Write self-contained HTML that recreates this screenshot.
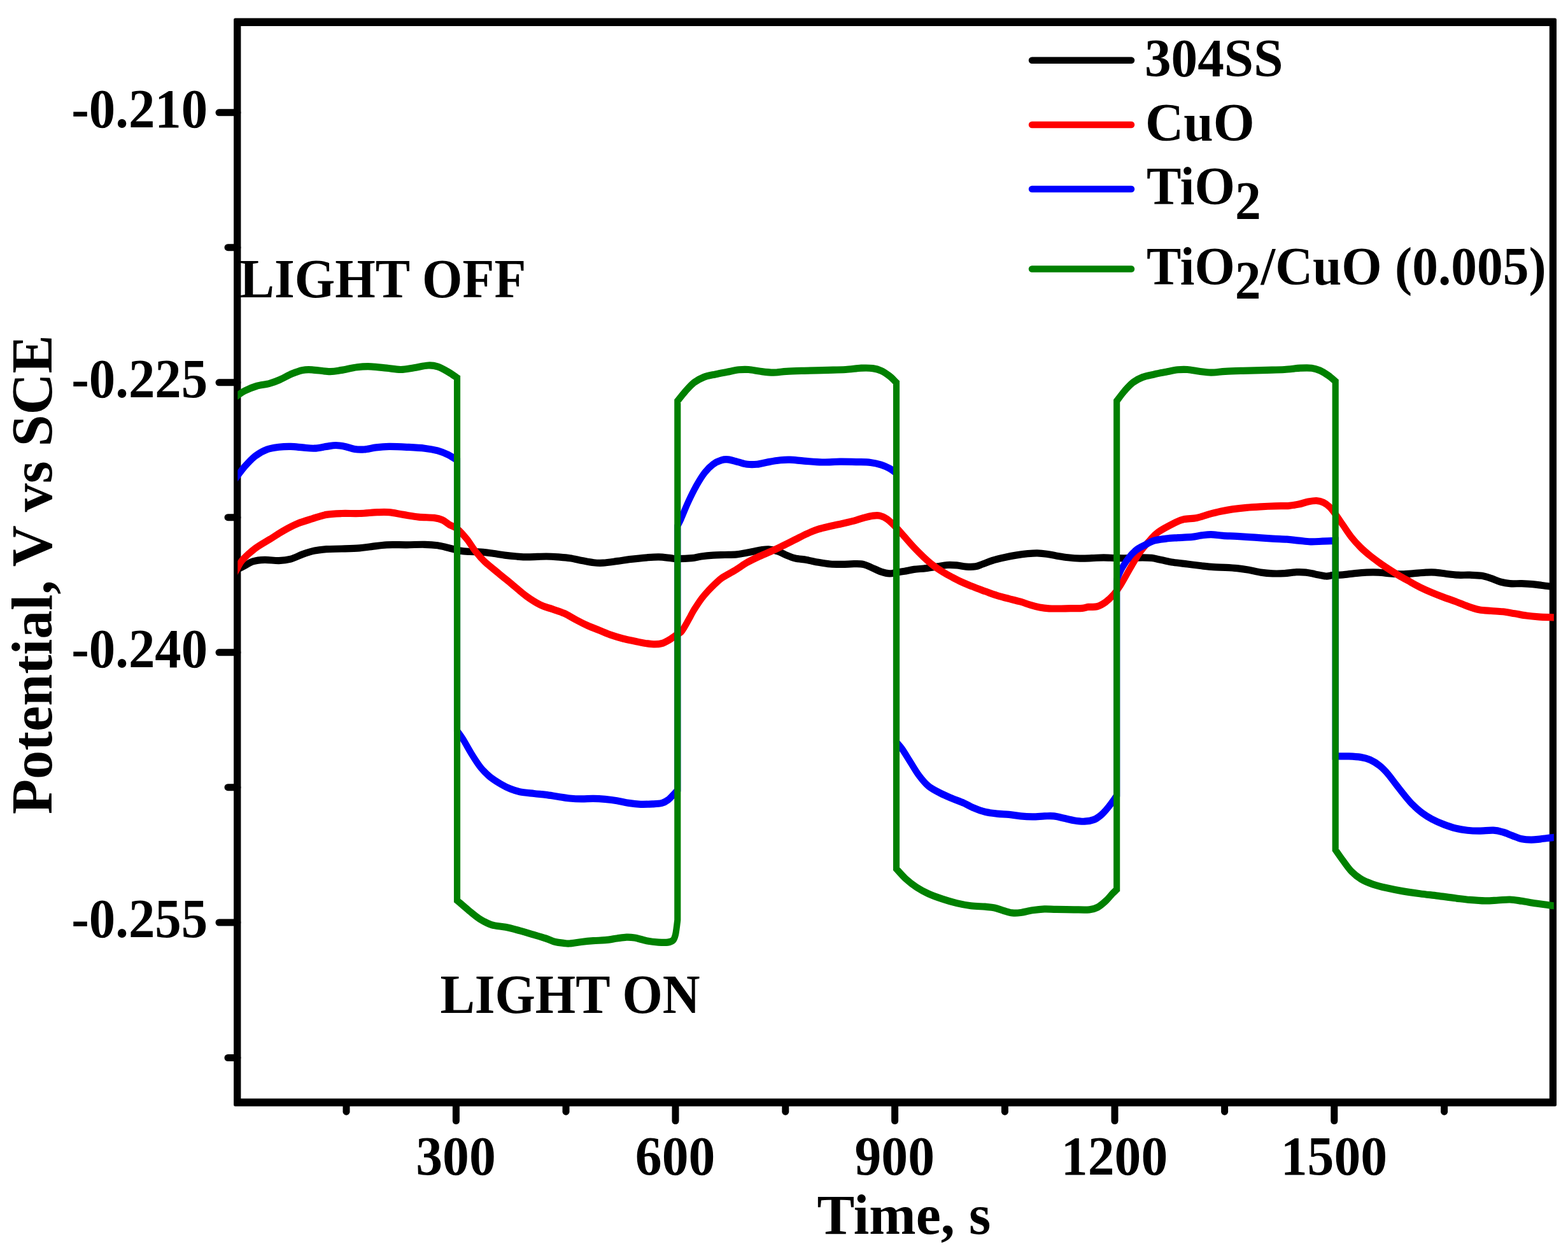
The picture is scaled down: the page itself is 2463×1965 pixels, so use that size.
<!DOCTYPE html>
<html lang="en"><head><meta charset="utf-8"><title>Potential vs Time</title>
<style>html,body{margin:0;padding:0;background:#fff;}body{width:2463px;height:1965px;overflow:hidden;}svg{display:block;}text{font-family:"Liberation Serif",serif;font-weight:bold;fill:#000;}</style>
</head><body>
<svg width="2463" height="1965" viewBox="0 0 2463 1965" role="img" aria-label="Potential versus time under chopped light">
<rect width="2463" height="1965" fill="#fff"/>
<path fill="#000" fill-rule="evenodd" d="M369.6 28.6H2442.5Q2445.0 28.6 2445.0 31.1V1735.2Q2445.0 1737.7 2442.5 1737.7H369.6Q367.1 1737.7 367.1 1735.2V31.1Q367.1 28.6 369.6 28.6Z M378.4 41.0H2433.8V1725.5H378.4Z"/>
<g stroke="#000" stroke-width="11" stroke-linecap="round">
<line x1="344.0" y1="176.8" x2="372.9" y2="176.8"/>
<line x1="344.0" y1="600.8" x2="372.9" y2="600.8"/>
<line x1="344.0" y1="1024.8" x2="372.9" y2="1024.8"/>
<line x1="344.0" y1="1449.0" x2="372.9" y2="1449.0"/>
<line x1="358.0" y1="388.7" x2="372.9" y2="388.7"/>
<line x1="358.0" y1="812.7" x2="372.9" y2="812.7"/>
<line x1="358.0" y1="1236.7" x2="372.9" y2="1236.7"/>
<line x1="358.0" y1="1661.5" x2="372.9" y2="1661.5"/>
<line x1="716.4" y1="1731.5" x2="716.4" y2="1760.5"/>
<line x1="1061.0" y1="1731.5" x2="1061.0" y2="1760.5"/>
<line x1="1405.6" y1="1731.5" x2="1405.6" y2="1760.5"/>
<line x1="1751.0" y1="1731.5" x2="1751.0" y2="1760.5"/>
<line x1="2095.8" y1="1731.5" x2="2095.8" y2="1760.5"/>
<line x1="544.0" y1="1731.5" x2="544.0" y2="1746.2"/>
<line x1="889.0" y1="1731.5" x2="889.0" y2="1746.2"/>
<line x1="1233.8" y1="1731.5" x2="1233.8" y2="1746.2"/>
<line x1="1578.4" y1="1731.5" x2="1578.4" y2="1746.2"/>
<line x1="1923.6" y1="1731.5" x2="1923.6" y2="1746.2"/>
<line x1="2268.6" y1="1731.5" x2="2268.6" y2="1746.2"/>
</g>
<clipPath id="pc"><rect x="373.3" y="0" width="2067.5" height="1965"/></clipPath>
<g clip-path="url(#pc)">
<g transform="scale(0.905 1)" fill="none" stroke-width="11.2" stroke-linejoin="miter" stroke-miterlimit="4" stroke-linecap="butt">
<path d="M405.4 897.3C406.5 896.8 408.9 895.7 412.0 894.3C415.2 892.9 420.1 890.8 424.5 888.7C429.0 886.6 433.1 883.5 438.9 881.9C444.7 880.3 451.9 879.6 459.4 879.4C467.0 879.2 476.6 880.8 484.1 880.6C491.6 880.4 497.8 879.8 504.6 878.1C511.5 876.5 518.3 872.9 525.2 870.7C532.1 868.5 539.0 866.4 545.9 865.1C552.7 863.8 558.5 863.2 566.4 862.7C574.3 862.2 583.4 862.3 593.0 862.0C602.6 861.7 615.4 861.4 624.0 860.8C632.6 860.2 636.7 859.4 644.5 858.6C652.4 857.8 660.9 856.3 671.2 855.8C681.4 855.3 695.2 855.9 706.2 855.8C717.2 855.7 728.1 855.1 737.0 855.3C745.9 855.4 752.7 855.8 759.6 856.7C766.4 857.6 771.6 859.1 778.1 860.5C784.6 861.9 792.6 864.1 798.7 865.1C804.8 866.1 808.5 866.2 814.6 866.5C820.7 866.8 828.3 866.6 835.1 867.1C842.0 867.6 848.8 868.5 855.7 869.3C862.5 870.1 869.4 871.3 876.2 872.1C883.1 872.9 889.9 873.5 896.8 874.0C903.6 874.5 908.8 874.9 917.3 874.9C925.9 874.9 939.6 874.0 948.2 874.0C956.7 874.0 961.9 874.4 968.7 874.9C975.6 875.4 982.4 875.8 989.3 876.7C996.2 877.6 1003.1 879.3 1009.9 880.5C1016.8 881.7 1024.3 883.2 1030.5 883.8C1036.6 884.4 1040.0 884.6 1046.9 884.2C1053.7 883.8 1064.1 882.3 1071.6 881.4C1079.2 880.5 1083.6 879.5 1092.2 878.6C1100.7 877.7 1114.4 876.4 1123.0 875.8C1131.5 875.2 1136.7 874.8 1143.5 874.9C1150.4 875.0 1158.7 876.2 1164.1 876.7C1169.5 877.2 1169.8 877.7 1175.9 877.7C1182.0 877.7 1193.7 877.3 1200.6 876.7C1207.4 876.1 1210.8 874.8 1217.0 874.0C1223.2 873.2 1230.7 872.5 1237.6 872.1C1244.4 871.7 1251.3 871.7 1258.1 871.5C1265.0 871.3 1271.8 871.4 1278.7 870.8C1285.5 870.2 1292.4 868.9 1299.2 867.8C1306.1 866.7 1314.0 864.9 1319.8 864.1C1325.6 863.3 1329.0 862.5 1334.1 862.8C1339.3 863.1 1345.8 864.6 1350.6 866.0C1355.4 867.4 1358.2 869.4 1363.0 871.2C1367.8 873.0 1373.3 875.3 1379.4 876.7C1385.6 878.1 1393.1 878.4 1400.0 879.5C1406.9 880.6 1413.7 882.2 1420.6 883.3C1427.4 884.4 1434.3 885.5 1441.1 886.0C1448.0 886.5 1454.8 886.4 1461.7 886.4C1468.5 886.4 1476.0 885.7 1482.2 885.7C1488.4 885.7 1493.5 885.4 1498.7 886.4C1503.8 887.4 1507.9 889.6 1513.0 891.6C1518.2 893.6 1524.4 896.6 1529.5 898.1C1534.6 899.6 1539.4 900.7 1543.9 900.9C1548.3 901.1 1552.0 899.7 1556.4 899.1C1560.7 898.5 1565.0 898.0 1570.1 897.2C1575.1 896.4 1580.3 895.2 1586.5 894.4C1592.7 893.6 1600.2 893.4 1607.1 892.6C1613.9 891.8 1621.5 890.6 1627.6 889.8C1633.8 888.9 1638.6 887.8 1644.1 887.5C1649.6 887.2 1655.1 887.5 1660.6 887.9C1666.0 888.3 1671.5 889.8 1677.0 890.1C1682.5 890.4 1688.7 890.5 1693.5 889.8C1698.3 889.1 1701.0 887.5 1705.7 886.0C1710.5 884.5 1716.0 882.2 1722.2 880.5C1728.4 878.8 1735.9 877.2 1742.8 875.8C1749.6 874.4 1756.5 873.1 1763.3 872.1C1770.2 871.1 1777.7 870.2 1783.9 869.7C1790.0 869.2 1794.8 868.8 1800.3 868.9C1805.8 869.0 1811.3 869.5 1816.8 870.2C1822.3 870.9 1827.1 872.1 1833.3 873.0C1839.4 873.9 1847.0 875.1 1853.8 875.8C1860.7 876.5 1867.5 877.0 1874.4 877.1C1881.2 877.2 1888.1 876.9 1894.9 876.7C1901.8 876.5 1908.2 875.8 1915.5 875.8C1922.7 875.8 1930.8 876.6 1938.6 876.7C1946.4 876.9 1954.8 876.9 1962.2 876.7C1969.6 876.6 1976.6 875.8 1982.8 875.8C1988.9 875.8 1993.7 875.8 1999.2 876.4C2004.7 877.0 2009.5 878.4 2015.7 879.5C2021.9 880.6 2028.7 882.2 2036.2 883.3C2043.8 884.4 2052.7 885.1 2060.9 886.0C2069.1 886.9 2078.0 888.0 2085.5 888.8C2093.1 889.6 2099.2 890.3 2106.1 890.7C2112.9 891.1 2119.9 891.0 2126.7 891.3C2133.6 891.6 2140.4 891.9 2147.3 892.6C2154.1 893.3 2161.0 894.2 2167.8 895.3C2174.7 896.4 2181.5 898.2 2188.4 899.1C2195.2 900.0 2202.1 900.6 2209.0 900.9C2215.8 901.1 2222.7 901.0 2229.5 900.6C2236.4 900.2 2243.9 899.0 2250.1 898.7C2256.2 898.5 2261.0 898.6 2266.5 899.1C2272.0 899.6 2277.1 900.9 2282.9 901.9C2288.7 902.9 2296.5 904.7 2301.4 905.0C2306.4 905.3 2307.6 904.1 2312.5 903.7C2317.4 903.3 2324.4 903.3 2330.9 902.8C2337.4 902.3 2344.6 901.2 2351.5 900.6C2358.3 900.0 2365.2 899.4 2372.0 899.1C2378.9 898.9 2385.7 898.8 2392.6 899.1C2399.4 899.4 2406.3 900.4 2413.1 900.9C2420.0 901.4 2426.9 901.9 2433.7 901.9C2440.6 901.9 2447.4 901.1 2454.3 900.6C2461.1 900.1 2468.6 899.4 2474.8 899.1C2481.0 898.9 2485.4 898.7 2491.3 899.1C2497.1 899.5 2503.3 900.6 2509.8 901.3C2516.4 902.0 2523.5 902.9 2530.4 903.2C2537.2 903.5 2544.1 903.0 2550.9 903.2C2557.8 903.4 2565.3 903.4 2571.5 904.3C2577.7 905.2 2582.5 906.8 2588.0 908.4C2593.4 910.0 2599.0 912.6 2604.4 914.0C2609.9 915.4 2614.6 916.2 2620.8 916.7C2626.9 917.2 2634.8 916.5 2641.3 916.7C2647.8 916.9 2654.1 917.2 2659.9 917.7C2665.7 918.2 2670.2 918.8 2676.4 919.5C2682.5 920.2 2692.2 921.4 2696.7 921.8C2701.2 922.2 2702.2 921.8 2703.3 921.8" stroke="#000"/>
<path d="M405.4 903.3C406.5 901.6 409.5 896.9 412.0 893.0C414.5 889.1 415.3 885.3 420.4 880.0C425.6 874.7 435.1 866.8 443.0 861.4C450.9 856.0 459.5 852.0 467.7 847.4C476.0 842.8 484.2 837.7 492.4 833.5C500.6 829.3 508.8 825.4 517.0 822.3C525.2 819.2 533.4 817.2 541.7 814.9C549.9 812.6 557.8 809.8 566.4 808.4C575.0 807.0 583.4 806.8 593.0 806.5C602.6 806.2 613.7 806.8 624.0 806.5C634.3 806.2 646.2 805.0 654.8 804.7C663.4 804.4 667.8 804.1 675.4 804.7C682.9 805.3 691.4 807.2 700.0 808.4C708.6 809.6 717.8 811.3 726.7 812.1C735.7 812.9 746.6 812.6 753.5 813.4C760.3 814.2 763.4 814.9 767.8 816.7C772.3 818.5 775.9 822.0 780.1 824.2C784.3 826.5 788.0 826.4 793.0 830.2C798.1 834.0 805.2 841.1 810.5 847.0C815.8 852.9 819.7 859.7 824.9 865.6C830.0 871.5 834.5 876.4 841.3 882.3C848.2 888.2 858.1 895.0 866.0 900.9C873.8 906.8 880.7 911.8 888.6 917.7C896.5 923.6 905.0 930.9 913.3 936.3C921.5 941.7 930.4 946.8 937.9 950.2C945.4 953.6 951.6 954.5 958.5 956.7C965.3 958.9 972.1 960.5 979.0 963.3C985.9 966.1 992.8 970.2 999.7 973.5C1006.5 976.8 1013.4 980.0 1020.2 982.8C1027.1 985.6 1033.9 987.7 1040.8 990.2C1047.6 992.7 1054.5 995.5 1061.3 997.7C1068.2 999.9 1075.0 1001.7 1081.9 1003.3C1088.7 1004.9 1096.3 1006.1 1102.4 1007.3C1108.5 1008.4 1112.8 1009.4 1118.6 1010.2C1124.3 1011.0 1131.9 1011.9 1137.0 1011.9C1142.1 1011.9 1145.4 1011.5 1149.3 1010.5C1153.2 1009.5 1156.9 1007.6 1160.3 1005.8C1163.8 1004.0 1167.6 1001.3 1170.2 999.7C1172.7 998.1 1173.6 997.5 1175.7 996.3C1177.8 995.1 1180.6 994.1 1182.5 992.4C1184.5 990.6 1185.8 988.2 1187.4 985.8C1189.0 983.4 1190.5 981.0 1192.4 978.0C1194.2 975.0 1196.4 971.2 1198.5 967.9C1200.5 964.5 1201.6 962.3 1204.6 957.9C1207.7 953.5 1212.8 946.2 1216.9 941.2C1221.0 936.2 1225.2 932.0 1229.3 927.9C1233.4 923.8 1237.5 920.1 1241.5 916.7C1245.6 913.3 1248.0 910.9 1253.8 907.3C1259.7 903.7 1269.3 899.3 1276.6 895.3C1283.8 891.3 1290.4 886.8 1297.2 883.3C1304.1 879.8 1310.9 876.9 1317.8 874.0C1324.6 871.1 1331.5 868.8 1338.3 866.0C1345.2 863.2 1352.0 860.2 1358.9 857.2C1365.7 854.2 1372.6 851.0 1379.4 847.9C1386.3 844.8 1393.1 841.4 1400.0 838.6C1406.9 835.8 1413.7 833.2 1420.6 831.2C1427.4 829.2 1434.3 828.0 1441.1 826.5C1448.0 825.0 1454.8 823.8 1461.7 822.4C1468.5 821.0 1476.0 819.6 1482.2 818.1C1488.4 816.6 1493.2 814.8 1498.7 813.5C1504.2 812.2 1510.3 810.7 1515.1 810.1C1519.9 809.5 1523.3 809.2 1527.4 810.1C1531.5 811.0 1535.0 812.1 1539.8 815.3C1544.6 818.5 1551.3 824.6 1556.4 829.3C1561.4 834.0 1565.0 838.2 1570.1 843.3C1575.1 848.4 1581.0 854.7 1586.5 860.0C1592.0 865.3 1597.5 870.2 1603.0 874.9C1608.5 879.5 1614.0 884.0 1619.4 887.9C1624.9 891.8 1630.4 895.0 1635.9 898.1C1641.4 901.2 1646.8 903.9 1652.3 906.5C1657.7 909.1 1662.6 911.5 1668.7 914.0C1674.9 916.5 1682.4 919.3 1689.3 921.8C1696.1 924.3 1703.0 926.5 1709.8 928.8C1716.7 931.0 1723.5 933.4 1730.4 935.3C1737.3 937.2 1744.2 938.8 1751.0 940.4C1757.9 942.0 1765.5 943.6 1771.6 945.2C1777.8 946.8 1782.5 948.7 1788.0 950.2C1793.4 951.7 1798.9 953.1 1804.4 954.0C1809.9 954.9 1815.4 955.5 1820.9 955.8C1826.4 956.1 1831.2 956.0 1837.3 956.0C1843.5 956.0 1851.0 955.7 1857.9 955.6C1864.8 955.5 1873.3 955.8 1878.5 955.4C1883.6 955.0 1884.5 953.8 1888.7 953.4C1893.0 953.0 1898.8 954.1 1903.9 952.8C1908.9 951.5 1914.2 948.8 1919.0 945.7C1923.8 942.6 1928.4 938.6 1932.7 934.2C1937.0 929.8 1939.6 926.8 1944.9 919.1C1950.2 911.4 1958.7 896.9 1964.5 888.1C1970.3 879.3 1974.6 872.5 1979.7 866.1C1984.7 859.7 1989.7 854.7 1994.8 849.7C1999.9 844.7 2002.5 840.8 2010.1 835.9C2017.6 831.0 2032.8 824.0 2040.3 820.6C2047.9 817.2 2049.3 816.8 2055.5 815.6C2061.6 814.4 2070.3 814.8 2077.3 813.5C2084.4 812.2 2091.0 809.6 2097.9 807.9C2104.8 806.2 2111.6 804.6 2118.5 803.3C2125.3 802.0 2131.5 800.9 2139.0 799.9C2146.5 798.9 2155.4 798.0 2163.6 797.3C2171.9 796.6 2180.2 796.2 2188.4 795.8C2196.6 795.4 2204.8 795.1 2213.0 794.9C2221.3 794.6 2230.8 794.8 2237.7 794.3C2244.5 793.8 2248.7 793.1 2254.1 792.1C2259.6 791.1 2265.5 788.9 2270.6 788.0C2275.7 787.1 2280.5 786.3 2285.0 786.5C2289.4 786.7 2293.6 787.7 2297.3 789.3C2301.1 790.9 2304.2 793.1 2307.6 796.2C2311.1 799.3 2314.1 803.1 2318.0 807.9C2321.9 812.6 2326.4 818.8 2330.9 824.7C2335.5 830.6 2340.2 837.4 2345.3 843.3C2350.4 849.2 2356.3 855.0 2361.8 860.0C2367.3 865.0 2372.7 869.0 2378.2 873.0C2383.7 877.0 2389.2 880.6 2394.7 884.2C2400.2 887.8 2405.7 891.1 2411.2 894.4C2416.6 897.6 2422.2 900.8 2427.6 903.7C2433.1 906.7 2437.8 909.0 2444.0 912.1C2450.1 915.2 2457.7 919.2 2464.5 922.3C2471.4 925.4 2478.2 928.1 2485.1 930.7C2492.0 933.3 2498.9 935.8 2505.7 938.1C2512.6 940.4 2519.4 942.4 2526.3 944.7C2533.1 947.0 2540.0 949.9 2546.9 952.1C2553.7 954.3 2560.6 956.5 2567.4 957.7C2574.3 958.9 2581.1 959.0 2588.0 959.5C2594.8 960.0 2601.7 960.1 2608.5 960.8C2615.4 961.5 2622.2 962.8 2629.1 963.8C2635.9 964.8 2642.8 966.2 2649.6 967.0C2656.5 967.8 2662.3 968.3 2670.2 968.8C2678.0 969.3 2691.2 969.6 2696.7 969.8C2702.2 970.0 2702.2 969.8 2703.3 969.8" stroke="#f00"/>
<path d="M405.4 755.8C406.5 754.5 408.9 751.7 412.0 747.9C415.2 744.1 419.4 738.3 424.5 733.0C429.7 727.7 436.5 720.8 443.0 716.3C449.5 711.8 456.7 708.3 463.5 706.0C470.4 703.7 477.2 703.1 484.1 702.3C490.9 701.5 497.8 701.3 504.6 701.4C511.5 701.5 518.3 702.4 525.2 702.9C532.1 703.4 539.0 704.5 545.9 704.2C552.7 704.0 560.3 702.2 566.4 701.4C572.6 700.6 577.3 699.5 582.8 699.5C588.2 699.5 593.7 700.4 599.2 701.4C604.7 702.4 610.2 704.7 615.7 705.5C621.2 706.3 626.0 706.4 632.2 706.0C638.3 705.6 645.5 703.7 652.7 702.9C659.9 702.1 666.4 701.5 675.4 701.4C684.3 701.3 695.9 701.8 706.2 702.3C716.5 702.8 728.1 703.3 737.0 704.2C745.9 705.1 752.7 706.2 759.6 707.9C766.4 709.6 772.5 711.9 778.1 714.4C783.8 716.9 790.8 721.4 793.4 722.8L793.4 1147.9C795.1 1150.1 799.4 1155.0 803.5 1160.9C807.6 1166.8 812.8 1175.8 817.9 1183.3C823.0 1190.8 828.9 1199.4 834.4 1205.6C839.9 1211.8 845.0 1216.2 850.8 1220.5C856.6 1224.8 863.5 1228.5 869.3 1231.6C875.1 1234.7 880.3 1237.1 885.7 1239.1C891.2 1241.1 895.4 1242.5 902.2 1243.7C909.1 1244.9 919.3 1245.7 926.9 1246.5C934.4 1247.3 940.6 1247.6 947.4 1248.4C954.3 1249.2 961.1 1250.3 968.0 1251.2C974.8 1252.1 981.7 1253.4 988.6 1254.0C995.5 1254.6 1002.3 1254.9 1009.2 1254.9C1016.0 1255.0 1022.9 1254.2 1029.7 1254.3C1036.6 1254.4 1043.4 1254.8 1050.3 1255.4C1057.1 1256.0 1064.0 1256.7 1070.8 1257.7C1077.7 1258.7 1084.5 1260.5 1091.4 1261.4C1098.2 1262.3 1105.1 1263.0 1111.9 1263.3C1118.8 1263.5 1126.3 1263.2 1132.5 1262.9C1138.7 1262.6 1144.5 1262.4 1149.0 1261.4C1153.4 1260.4 1155.6 1259.2 1159.2 1256.7C1162.8 1254.2 1167.7 1249.1 1170.5 1246.5C1173.3 1243.9 1175.1 1241.8 1176.0 1240.9L1176.0 826.0C1177.0 824.1 1179.0 821.1 1182.1 814.9C1185.2 808.7 1189.9 797.5 1194.4 788.8C1198.8 780.1 1204.0 770.5 1208.8 762.8C1213.6 755.0 1218.4 747.9 1223.2 742.3C1228.0 736.7 1232.8 732.5 1237.6 729.3C1242.4 726.0 1247.5 724.0 1251.9 722.8C1256.4 721.6 1259.5 721.4 1264.3 721.9C1269.1 722.4 1275.3 724.4 1280.8 725.6C1286.3 726.8 1291.8 728.7 1297.2 729.3C1302.7 729.9 1307.4 729.9 1313.6 729.3C1319.7 728.7 1327.3 726.7 1334.1 725.6C1341.0 724.5 1348.5 723.4 1354.7 722.8C1360.9 722.2 1364.3 722.0 1371.2 722.2C1378.0 722.4 1386.6 723.5 1395.9 724.1C1405.2 724.7 1416.5 725.8 1426.7 726.0C1437.0 726.2 1447.3 725.3 1457.6 725.2C1467.8 725.1 1479.5 725.4 1488.4 725.6C1497.3 725.8 1504.1 725.7 1510.9 726.5C1517.8 727.3 1524.0 728.7 1529.5 730.2C1535.0 731.8 1539.5 733.6 1543.9 735.8C1548.3 738.0 1553.8 742.0 1555.8 743.3L1555.8 1165.6C1557.5 1167.4 1561.9 1171.4 1566.0 1176.7C1570.1 1182.0 1575.5 1190.4 1580.3 1197.2C1585.1 1204.0 1589.7 1211.5 1594.8 1217.7C1599.9 1223.9 1605.0 1229.8 1611.2 1234.4C1617.3 1239.1 1624.9 1242.3 1631.7 1245.6C1638.6 1248.9 1645.4 1251.4 1652.3 1254.0C1659.1 1256.6 1666.8 1258.9 1672.9 1261.4C1679.1 1263.9 1683.1 1266.5 1689.3 1268.8C1695.4 1271.1 1703.0 1273.8 1709.8 1275.3C1716.7 1276.8 1723.5 1277.4 1730.4 1278.1C1737.3 1278.8 1744.2 1278.8 1751.0 1279.4C1757.9 1280.0 1764.8 1281.3 1771.6 1281.9C1778.5 1282.5 1785.3 1282.8 1792.2 1282.8C1799.0 1282.8 1806.6 1282.1 1812.7 1281.9C1818.9 1281.8 1823.6 1281.4 1829.1 1281.9C1834.5 1282.4 1839.7 1283.9 1845.5 1285.0C1851.4 1286.1 1857.9 1287.8 1864.1 1288.7C1870.3 1289.6 1876.7 1290.4 1882.5 1290.2C1888.4 1290.0 1894.2 1289.1 1899.0 1287.4C1903.8 1285.7 1907.3 1283.2 1911.4 1280.0C1915.5 1276.8 1920.1 1271.8 1923.6 1267.9C1927.2 1264.0 1930.5 1259.8 1932.9 1256.7C1935.4 1253.6 1937.4 1250.5 1938.3 1249.3L1938.3 910.2C1939.9 907.1 1944.2 897.5 1947.8 891.6C1951.5 885.7 1956.1 879.5 1960.2 874.9C1964.3 870.2 1968.0 866.8 1972.5 863.7C1976.9 860.6 1981.7 858.7 1986.9 856.3C1992.0 853.9 1997.1 850.8 2003.3 849.1C2009.5 847.4 2017.0 846.9 2023.9 846.1C2030.7 845.4 2036.9 845.1 2044.4 844.6C2052.0 844.1 2062.3 843.9 2069.2 843.3C2076.0 842.7 2080.1 841.5 2085.5 840.9C2091.0 840.3 2095.8 839.5 2102.0 839.6C2108.2 839.7 2115.0 840.9 2122.5 841.4C2130.1 841.9 2138.0 841.9 2147.3 842.4C2156.6 842.9 2167.8 843.6 2178.1 844.2C2188.4 844.8 2199.7 845.6 2209.0 846.1C2218.2 846.6 2226.1 846.7 2233.6 847.2C2241.1 847.7 2247.3 848.5 2254.1 849.1C2261.0 849.7 2267.8 850.7 2274.7 850.9C2281.5 851.1 2288.0 850.5 2295.2 850.2C2302.4 850.0 2314.1 849.5 2317.9 849.4L2317.9 1187.9C2321.8 1187.9 2333.9 1187.7 2341.2 1187.9C2348.5 1188.2 2355.6 1188.5 2361.8 1189.4C2367.9 1190.3 2372.7 1191.3 2378.2 1193.5C2383.7 1195.7 2389.6 1199.1 2394.7 1202.8C2399.8 1206.5 2404.3 1210.8 2409.1 1215.8C2413.8 1220.8 2418.6 1227.0 2423.4 1232.6C2428.2 1238.2 2433.1 1244.0 2437.9 1249.3C2442.7 1254.6 2447.1 1259.5 2452.3 1264.2C2457.4 1268.9 2463.3 1273.5 2468.7 1277.2C2474.2 1280.9 2478.9 1283.5 2485.1 1286.5C2491.3 1289.5 2498.9 1292.5 2505.7 1294.9C2512.6 1297.3 2519.4 1299.5 2526.3 1301.0C2533.1 1302.5 2540.0 1303.5 2546.9 1304.2C2553.7 1304.9 2559.9 1305.1 2567.4 1305.1C2574.9 1305.1 2585.2 1303.9 2592.0 1304.2C2598.9 1304.5 2603.0 1305.6 2608.5 1307.0C2614.0 1308.4 2619.5 1310.8 2625.0 1312.6C2630.4 1314.4 2635.9 1316.7 2641.3 1317.8C2646.8 1318.9 2652.3 1319.1 2657.8 1319.1C2663.3 1319.1 2667.8 1318.4 2674.3 1317.8C2680.7 1317.2 2691.8 1315.7 2696.7 1315.3C2701.5 1314.9 2702.2 1315.3 2703.3 1315.3" stroke="#00f"/>
<path d="M405.4 625.3C406.5 624.7 408.9 623.3 412.0 621.4C415.2 619.5 419.0 616.5 424.5 614.0C430.0 611.5 437.9 608.4 445.1 606.5C452.3 604.6 460.9 604.1 467.7 602.4C474.6 600.7 479.7 598.9 486.2 596.3C492.7 593.7 500.2 589.5 506.7 587.0C513.2 584.5 519.4 582.4 525.2 581.4C531.0 580.4 533.8 580.4 541.7 580.8C549.5 581.2 563.9 583.5 572.5 583.6C581.0 583.7 585.2 582.5 593.0 581.4C600.9 580.2 611.2 577.6 619.8 576.7C628.4 575.8 636.0 575.5 644.5 575.8C653.1 576.0 662.6 577.4 671.2 578.2C679.7 579.0 688.0 580.6 695.9 580.5C703.8 580.4 710.6 578.8 718.5 577.7C726.3 576.6 736.4 574.3 743.2 574.0C750.1 573.7 753.7 574.1 759.6 575.8C765.4 577.5 772.5 581.2 778.1 584.2C783.8 587.2 790.8 592.0 793.4 593.5L793.4 1414.4C796.8 1417.0 807.3 1425.4 813.8 1430.2C820.3 1435.0 825.9 1439.6 832.4 1443.3C838.9 1447.0 845.4 1450.4 852.9 1452.6C860.5 1454.8 869.4 1454.8 877.6 1456.3C885.8 1457.8 894.0 1459.9 902.2 1461.9C910.4 1463.9 919.3 1466.4 926.9 1468.4C934.4 1470.4 941.2 1472.2 947.4 1474.0C953.6 1475.8 958.7 1478.3 963.9 1479.5C969.0 1480.7 974.1 1481.0 978.2 1481.4C982.4 1481.8 983.5 1482.3 988.6 1482.0C993.8 1481.7 1002.3 1480.2 1009.2 1479.5C1016.0 1478.8 1022.9 1478.2 1029.7 1477.7C1036.6 1477.2 1043.4 1477.3 1050.3 1476.7C1057.1 1476.1 1064.7 1474.8 1070.8 1474.0C1077.0 1473.2 1082.2 1472.3 1087.3 1472.1C1092.4 1471.9 1095.8 1472.1 1101.7 1473.0C1107.5 1473.9 1115.4 1476.5 1122.2 1477.7C1129.1 1478.9 1136.6 1479.7 1142.8 1480.1C1148.9 1480.5 1155.0 1480.7 1159.2 1480.1C1163.5 1479.5 1166.2 1478.8 1168.4 1476.7C1170.6 1474.6 1171.3 1472.7 1172.6 1467.4C1173.9 1462.1 1175.5 1448.8 1176.0 1445.1L1176.0 629.8C1178.4 627.2 1185.5 618.8 1190.3 614.0C1195.0 609.2 1199.5 604.5 1204.6 600.9C1209.8 597.3 1214.9 594.8 1221.1 592.6C1227.3 590.4 1234.8 589.3 1241.7 587.9C1248.5 586.5 1255.4 585.4 1262.2 584.2C1269.1 583.0 1276.6 581.4 1282.8 580.8C1288.9 580.2 1293.1 580.1 1299.2 580.5C1305.4 580.9 1312.6 582.5 1319.8 583.3C1327.0 584.1 1334.9 585.1 1342.4 585.1C1350.0 585.1 1356.1 583.8 1365.0 583.3C1373.9 582.8 1383.9 582.6 1395.9 582.3C1407.9 582.0 1425.0 581.7 1437.0 581.4C1449.0 581.1 1458.3 581.0 1467.8 580.5C1477.4 580.0 1486.7 578.5 1494.6 578.2C1502.5 577.9 1509.3 577.9 1515.1 578.6C1521.0 579.3 1524.7 580.3 1529.5 582.3C1534.3 584.3 1539.5 587.6 1543.9 590.7C1548.3 593.8 1553.8 599.2 1555.8 600.9L1555.8 1364.7C1558.5 1367.3 1566.4 1375.7 1572.2 1380.5C1578.0 1385.3 1584.1 1389.6 1590.6 1393.5C1597.1 1397.4 1603.6 1400.6 1611.2 1403.7C1618.7 1406.8 1627.7 1409.6 1635.9 1412.1C1644.1 1414.6 1652.3 1416.8 1660.6 1418.6C1668.8 1420.4 1677.0 1421.8 1685.2 1422.7C1693.4 1423.6 1703.0 1423.7 1709.8 1424.2C1716.7 1424.8 1720.8 1424.9 1726.3 1426.0C1731.8 1427.1 1737.6 1429.4 1742.8 1430.7C1747.9 1432.0 1752.3 1433.4 1757.1 1433.9C1761.9 1434.4 1765.8 1434.2 1771.6 1433.5C1777.4 1432.8 1785.3 1430.7 1792.2 1429.8C1799.0 1428.9 1805.9 1428.2 1812.7 1427.9C1819.6 1427.7 1824.7 1428.2 1833.3 1428.3C1841.8 1428.4 1854.5 1428.7 1864.1 1428.8C1873.7 1428.9 1884.0 1429.4 1890.8 1428.8C1897.7 1428.2 1900.4 1427.4 1905.2 1425.1C1910.0 1422.8 1915.3 1418.5 1919.6 1414.9C1923.8 1411.3 1927.7 1406.7 1930.8 1403.7C1934.0 1400.8 1937.1 1398.3 1938.3 1397.2L1938.3 629.8C1940.6 627.2 1947.3 618.8 1951.9 614.0C1956.6 609.2 1961.2 604.5 1966.3 600.9C1971.4 597.3 1976.6 594.8 1982.8 592.6C1988.9 590.4 1996.5 589.3 2003.3 587.9C2010.2 586.5 2017.0 585.4 2023.9 584.2C2030.7 583.0 2038.3 581.4 2044.4 580.8C2050.6 580.2 2054.7 580.1 2060.9 580.5C2067.1 580.9 2074.6 582.5 2081.4 583.3C2088.3 584.1 2094.4 585.1 2102.0 585.1C2109.5 585.1 2117.5 583.8 2126.7 583.3C2136.0 582.8 2145.6 582.6 2157.6 582.3C2169.6 582.0 2186.7 581.7 2198.7 581.4C2210.7 581.1 2219.9 581.0 2229.5 580.5C2239.1 580.0 2248.4 578.6 2256.2 578.2C2264.1 577.8 2271.0 577.6 2276.8 578.2C2282.6 578.8 2286.4 580.1 2291.2 582.0C2295.9 583.9 2301.1 586.9 2305.5 589.8C2310.0 592.6 2315.8 597.5 2317.9 599.1L2317.9 1334.9C2320.1 1337.7 2326.4 1346.0 2330.9 1351.6C2335.5 1357.2 2340.2 1363.6 2345.3 1368.4C2350.4 1373.2 2355.6 1377.1 2361.8 1380.5C2367.9 1383.9 2374.8 1386.4 2382.3 1388.8C2389.9 1391.2 2398.4 1393.0 2407.0 1394.8C2415.5 1396.6 2424.1 1398.1 2433.7 1399.6C2443.3 1401.1 2454.3 1402.5 2464.5 1403.7C2474.8 1405.0 2485.1 1405.9 2495.4 1407.1C2505.7 1408.3 2517.0 1409.8 2526.3 1410.8C2535.6 1411.8 2542.4 1412.7 2550.9 1413.4C2559.5 1414.1 2569.5 1414.8 2577.7 1414.9C2585.9 1415.0 2593.0 1414.3 2600.2 1414.0C2607.4 1413.7 2613.9 1412.8 2620.8 1413.0C2627.6 1413.2 2633.8 1414.3 2641.3 1415.3C2648.9 1416.3 2656.9 1417.8 2666.1 1419.0C2675.3 1420.2 2690.5 1422.1 2696.7 1422.7C2702.9 1423.3 2702.2 1422.7 2703.3 1422.7" stroke="#008000"/>
</g>
</g>
<text transform="translate(326.20 199.80) scale(0.9658 1.0000)" font-size="85.8" text-anchor="end">-0.210</text>
<text transform="translate(326.20 623.80) scale(0.9658 1.0000)" font-size="85.8" text-anchor="end">-0.225</text>
<text transform="translate(326.20 1047.80) scale(0.9658 1.0000)" font-size="85.8" text-anchor="end">-0.240</text>
<text transform="translate(326.20 1472.00) scale(0.9658 1.0000)" font-size="85.8" text-anchor="end">-0.255</text>
<text transform="translate(716.00 1844.60) scale(0.9760 1.0000)" font-size="85.8" text-anchor="middle">300</text>
<text transform="translate(1060.60 1844.60) scale(0.9760 1.0000)" font-size="85.8" text-anchor="middle">600</text>
<text transform="translate(1405.20 1844.60) scale(0.9760 1.0000)" font-size="85.8" text-anchor="middle">900</text>
<text transform="translate(1750.60 1844.60) scale(0.9760 1.0000)" font-size="85.8" text-anchor="middle">1200</text>
<text transform="translate(2095.40 1844.60) scale(0.9760 1.0000)" font-size="85.8" text-anchor="middle">1500</text>
<text transform="translate(1283.60 1938.20) scale(0.9870 1.0000)" font-size="89.3" text-anchor="start">Time, s</text>
<text transform="translate(81.30 1279.00) rotate(-90) scale(0.9838 1.0000)" font-size="91.6" text-anchor="start">Potential, V vs SCE</text>
<text transform="translate(376.60 466.80) scale(0.9480 1.0000)" font-size="86.1" text-anchor="start">LIGHT OFF</text>
<text transform="translate(691.40 1590.90) scale(0.9506 1.0000)" font-size="85.7" text-anchor="start">LIGHT ON</text>
<g stroke-width="10.5" stroke-linecap="round" fill="none">
<line x1="1621.0" y1="94.8" x2="1777.0" y2="94.8" stroke="#000"/>
<line x1="1621.0" y1="196.0" x2="1777.0" y2="196.0" stroke="#f00"/>
<line x1="1621.0" y1="297.0" x2="1777.0" y2="297.0" stroke="#00f"/>
<line x1="1621.0" y1="422.5" x2="1777.0" y2="422.5" stroke="#008000"/>
</g>
<text transform="translate(1798.00 120.40) scale(0.9737 1.0000)" font-size="85.5" text-anchor="start">304SS</text>
<text transform="translate(1799.10 221.10) scale(0.9755 1.0000)" font-size="85.5" text-anchor="start">CuO</text>
<text transform="translate(1800.90 321.40) scale(0.9550 1.0000)" font-size="85.5" text-anchor="start">TiO<tspan dy="22.3">2</tspan></text>
<text transform="translate(1800.90 446.80) scale(0.9530 1.0000)" font-size="85.5" text-anchor="start">TiO<tspan dy="22.3">2</tspan><tspan dy="-22.3">/CuO (0.005)</tspan></text>
</svg>
</body></html>
